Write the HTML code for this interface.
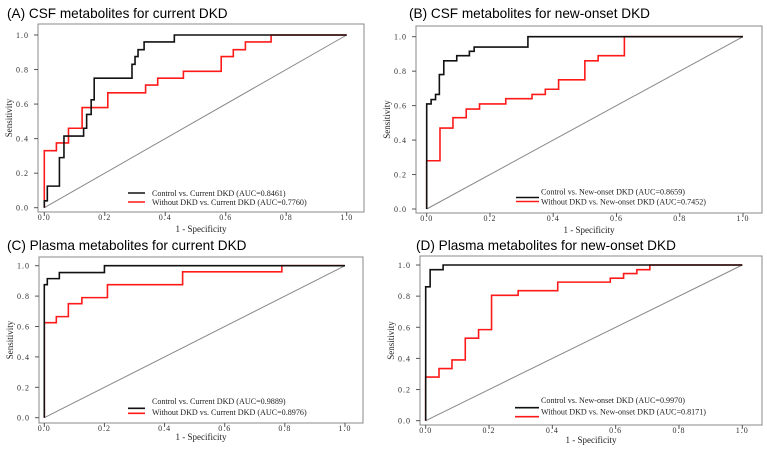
<!DOCTYPE html>
<html><head><meta charset="utf-8"><style>
body{margin:0;background:#fff;width:767px;height:449px;overflow:hidden}
svg text{font-family:"Liberation Serif",serif}
.t{font-family:"Liberation Sans",sans-serif;font-size:13.6px}
</style></head><body>
<svg id="s" width="767" height="449"></svg>
<script>
// Panel A
const aBlackX=[0,0.01,0.05,0.065,0.13,0.14,0.155,0.165,0.29,0.30,0.31,0.33,0.43];
const aBlackY=[0.04,0.125,0.29,0.415,0.46,0.54,0.625,0.75,0.83,0.875,0.915,0.96,1];
const aRedX=[0,0.04,0.08,0.125,0.21,0.335,0.375,0.46,0.585,0.625,0.665,0.75];
const aRedY=[0.33,0.375,0.46,0.58,0.665,0.71,0.75,0.79,0.875,0.915,0.96,1];
// Panel B
const bBlackX=[0,0.014,0.028,0.04,0.054,0.095,0.135,0.15,0.32];
const bBlackY=[0.61,0.635,0.665,0.78,0.86,0.89,0.915,0.94,1];
const bRedX=[0,0.042,0.083,0.125,0.167,0.25,0.333,0.375,0.417,0.5,0.542,0.625];
const bRedY=[0.28,0.47,0.53,0.58,0.61,0.64,0.665,0.695,0.75,0.86,0.89,1];
// Panel C
const cBlackX=[0,0.01,0.05,0.2];
const cBlackY=[0.875,0.915,0.955,1];
const cRedX=[0,0.04,0.08,0.125,0.21,0.46,0.79];
const cRedY=[0.625,0.665,0.75,0.79,0.875,0.96,1];
// Panel D
const dBlackX=[0,0.014,0.055];
const dBlackY=[0.86,0.97,1];
const dRedX=[0,0.042,0.083,0.125,0.167,0.208,0.292,0.417,0.583,0.625,0.667,0.708];
const dRedY=[0.28,0.335,0.39,0.53,0.585,0.805,0.835,0.89,0.915,0.945,0.97,1];
const tickLabels=["0.0","0.2","0.4","0.6","0.8","1.0"];
const tickVals=[0,0.2,0.4,0.6,0.8,1];

const NS="http://www.w3.org/2000/svg";
const svg=document.getElementById('s');
function mk(tag,attrs,parent,txt){const e=document.createElementNS(NS,tag);for(const k in attrs)e.setAttribute(k,attrs[k]);if(txt!==undefined)e.textContent=txt;(parent||svg).appendChild(e);return e;}

function panel(p){
  const g=mk('g',{});
  
  
  const sx=v=>p.x0+v*(p.x1-p.x0), sy=v=>p.y0+v*(p.y1-p.y0);
  const title=mk('text',{x:p.tx,y:p.ty,class:'t'},g,p.title);
  
  
  const box=mk('rect',{x:p.bx0,y:p.by0,width:p.bx1-p.bx0,height:p.by1-p.by0,fill:'none',stroke:'#888','stroke-width':1},g);
  
  
  tickVals.forEach((v,i)=>{
    mk('line',{x1:p.bx0-4,x2:p.bx0,y1:sy(v),y2:sy(v),stroke:'#555'},g);
    const yl=mk('text',{x:p.bx0-9,y:sy(v)+3,'text-anchor':'end','font-size':8,'letter-spacing':1,fill:'#333'},g,tickLabels[i]);
    
    
    mk('line',{x1:sx(v),x2:sx(v),y1:p.by1,y2:p.by1+4,stroke:'#555'},g);
    const xl=mk('text',{x:sx(v),y:p.by1+8,'text-anchor':'middle','font-size':8,'letter-spacing':1,fill:'#333'},g,tickLabels[i]);
    
    
  });
  const yt=mk('text',{x:0,y:0,transform:`translate(${p.bx0-26},${(p.by0+p.by1)/2}) rotate(-90)`,'text-anchor':'middle','font-size':9,fill:'#222'},g,'Sensitivity');
  
  
  const xt=mk('text',{x:(p.bx0+p.bx1)/2,y:p.xly,'text-anchor':'middle','font-size':9,fill:'#222'},g,'1 - Specificity');
  
  
  const diag=mk('line',{x1:sx(0),y1:sy(0),x2:sx(1),y2:sy(1),stroke:'#888','stroke-width':1},g);
  
  
  function step(xs,ys,color,name){
    let d=`M${sx(0)},${sy(0)}`;let py=0;
    xs.forEach((x,i)=>{d+=` L${sx(x)},${sy(py)} L${sx(x)},${sy(ys[i])}`;py=ys[i];});
    d+=` L${sx(1)},${sy(1)}`;
    const path=mk('path',{d:d,fill:'none',stroke:color,'stroke-width':1.6},g);
    
    
  }
  step(p.rx,p.ry,'#ff1a1a','roc-without-dkd');
  step(p.kx,p.ky,'#111','roc-control');
  p.leg.forEach((L,i)=>{
    const lg=mk('g',{},g);
    
    
    mk('line',{x1:p.lx0,x2:p.lx1,y1:L.ly,y2:L.ly,stroke:i?'#ff1a1a':'#111','stroke-width':1.6},lg);
    mk('text',{x:p.ltx,y:L.ty,'font-size':8.1,fill:'#222'},lg,L.text);
  });
}
panel({id:'panel-a',title:'(A) CSF metabolites for current DKD',tx:7,ty:18,bx0:38,bx1:364,by0:24,by1:212,x0:44.3,x1:346.7,y0:207.7,y1:35,xly:232,
  kx:aBlackX,ky:aBlackY,rx:aRedX,ry:aRedY,lx0:128,lx1:145,ltx:152,
  leg:[{ly:193,ty:196,text:'Control vs. Current DKD (AUC=0.8461)'},{ly:202,ty:205,text:'Without DKD vs. Current DKD (AUC=0.7760)'}]});
panel({id:'panel-b',title:'(B) CSF metabolites for new-onset DKD',tx:409,ty:18,bx0:416,bx1:762,by0:26,by1:213,x0:426.7,x1:743,y0:209,y1:36.7,xly:233,
  kx:bBlackX,ky:bBlackY,rx:bRedX,ry:bRedY,lx0:516,lx1:539,ltx:541,
  leg:[{ly:197.5,ty:194.5,text:'Control vs. New-onset DKD (AUC=0.8659)'},{ly:201.5,ty:204.5,text:'Without DKD vs. New-onset DKD (AUC=0.7452)'}]});
panel({id:'panel-c',title:'(C) Plasma metabolites for current DKD',tx:7,ty:250,bx0:39,bx1:363,by0:257,by1:423,x0:44.3,x1:345,y0:417.7,y1:265.7,xly:440,
  kx:cBlackX,ky:cBlackY,rx:cRedX,ry:cRedY,lx0:128,lx1:145,ltx:152,
  leg:[{ly:408.3,ty:404,text:'Control vs. Current DKD (AUC=0.9889)'},{ly:413.3,ty:415,text:'Without DKD vs. Current DKD (AUC=0.8976)'}]});
panel({id:'panel-d',title:'(D) Plasma metabolites for new-onset DKD',tx:416,ty:250,bx0:420,bx1:762,by0:256,by1:425,x0:425.7,x1:742.3,y0:420.7,y1:265,xly:443,
  kx:dBlackX,ky:dBlackY,rx:dRedX,ry:dRedY,lx0:515,lx1:539,ltx:541,
  leg:[{ly:407.7,ty:403,text:'Control vs. New-onset DKD (AUC=0.9970)'},{ly:416.7,ty:414.5,text:'Without DKD vs. New-onset DKD (AUC=0.8171)'}]});
</script>
</body></html>
